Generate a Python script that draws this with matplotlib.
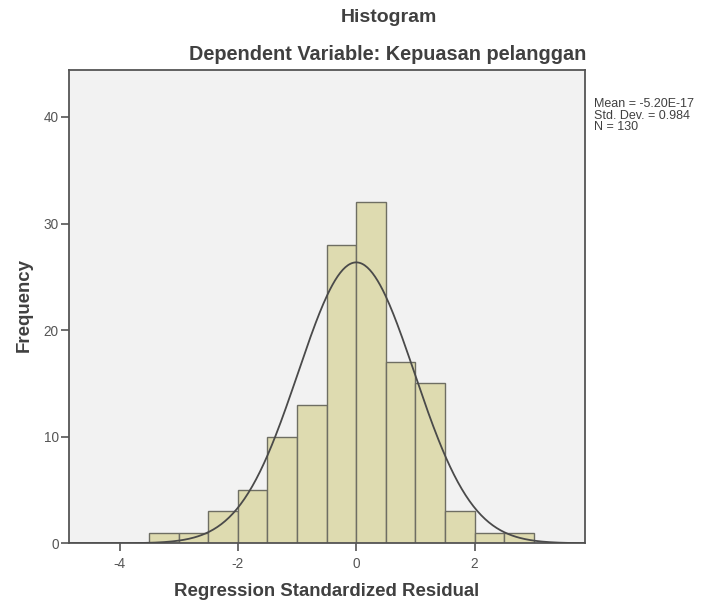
import numpy as np
import matplotlib
matplotlib.use("Agg")
import matplotlib.pyplot as plt

plt.rcParams['font.family'] = ['Liberation Sans', 'DejaVu Sans']

bin_left = [-3.5, -3.0, -2.5, -2.0, -1.5, -1.0, -0.5, 0.0, 0.5, 1.0, 1.5, 2.0, 2.5]
counts = [1, 1, 3, 5, 10, 13, 28, 32, 17, 15, 3, 1, 1]
bin_width = 0.5
mean = -5.20e-17
std = 0.984
n = 130
xticks = [-4, -2, 0, 2]
yticks = [0, 10, 20, 30, 40]

W, H = 701, 604
fig = plt.figure(figsize=(W/100, H/100), dpi=100)
fig.patch.set_facecolor('white')
L, R, T, B = 68.7, 584.6, 70.0, 543.3
ax = fig.add_axes([L/W, 1-B/H, (R-L)/W, (B-T)/H])
ax.set_facecolor('#F2F2F2')

ax.bar(bin_left, counts, width=bin_width, align='edge', color='#DEDBB0',
       edgecolor='#6E6E63', linewidth=1.0, zorder=2)

xs = np.linspace(-4.86, 3.86, 400)
pdf = n * bin_width / (std * np.sqrt(2*np.pi)) * np.exp(-0.5*((xs-mean)/std)**2)
ax.plot(xs, pdf, color='#4A4A4A', lw=1.3, zorder=3)

ax.set_xlim(-4.86, 3.86)
ax.set_ylim(0, 44.4)
ax.set_xticks(xticks)
ax.set_xticklabels([str(t) for t in xticks])
ax.set_yticks(yticks)
ax.tick_params(axis='both', direction='out', length=5.6, width=1.2, color='#555555',
               labelcolor='#555555', labelsize=9.8)
ax.tick_params(axis='x', pad=4.5)
ax.tick_params(axis='y', pad=1.5)
for s in ax.spines.values():
    s.set_color('#555555')
    s.set_linewidth(1.3)

ax.set_xlabel('Regression Standardized Residual', fontsize=13.4, fontweight='bold',
              color='#404040', va='center')
ax.xaxis.set_label_coords(0.5, (B-592)/(B-T))
ax.set_ylabel('Frequency', fontsize=13.4, fontweight='bold', color='#404040', va='center')
ax.yaxis.set_label_coords((24-L)/(R-L), (B-305)/(B-T))

fig.text(388.5/W, 1-18/H, 'Histogram', ha='center', va='center', fontsize=14,
         fontweight='bold', color='#404040')
fig.text(387.5/W, 1-54/H, 'Dependent Variable: Kepuasan pelanggan', ha='center',
         va='center', fontsize=14.3, fontweight='bold', color='#404040')
fig.text(594/W, 1-98/H, 'Mean = -5.20E-17\nStd. Dev. = 0.984\nN = 130',
         ha='left', va='top', fontsize=9, color='#404040', linespacing=0.95)

fig.savefig('out.png', dpi=100)
